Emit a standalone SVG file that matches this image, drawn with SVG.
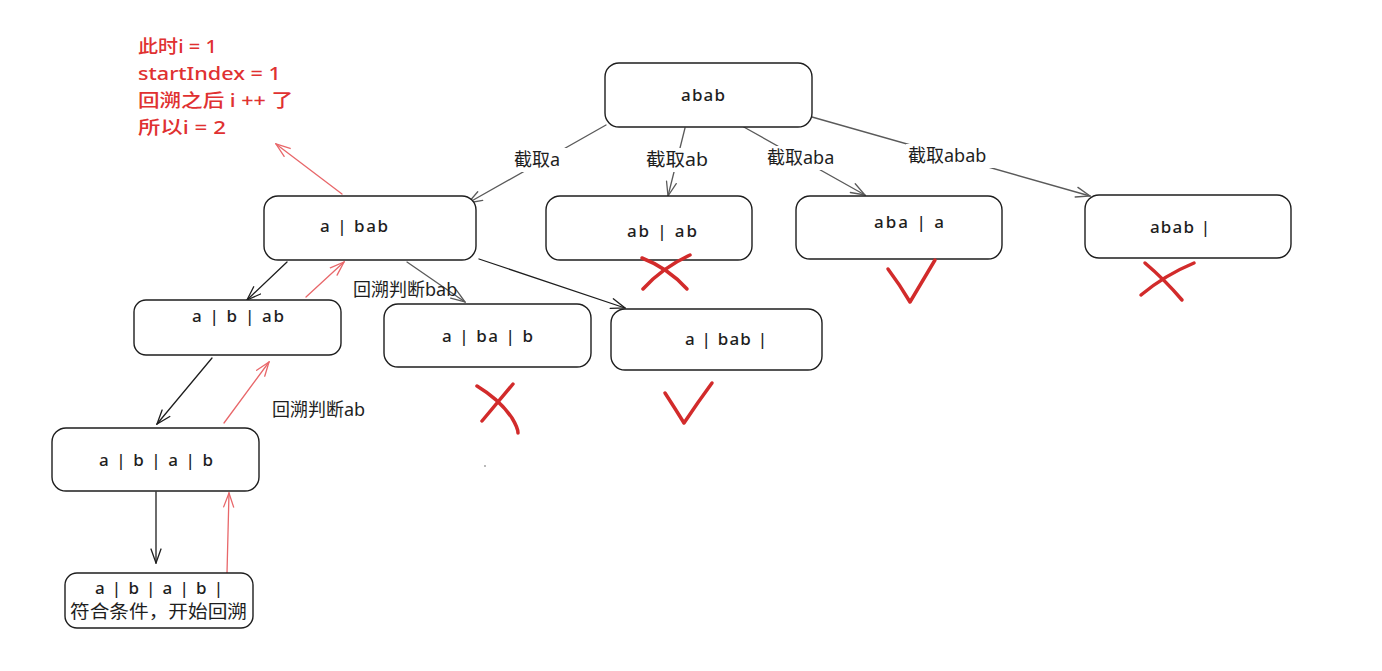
<svg xmlns="http://www.w3.org/2000/svg" width="1382" height="671" viewBox="0 0 1382 671">
<defs>
<style>
.box{fill:#fff;stroke:#1e1e1e;stroke-width:1.4}
.nt{font-family:"Noto Sans","Noto Sans CJK SC",sans-serif;font-size:17px;font-weight:500;fill:#1e1e1e}
.lb{font-family:"Noto Sans","Noto Sans CJK SC",sans-serif;font-size:18px;fill:#1e1e1e}
.rt{font-family:"Noto Sans","Noto Sans CJK SC",sans-serif;font-size:18px;font-weight:500;fill:#e03131}
.lbg{fill:#fff}
.e{fill:none;stroke-width:1.3;stroke-linecap:round}
.k{stroke:#1e1e1e;marker-end:url(#ak)}
.g{stroke:#5a5a5a;marker-end:url(#ag)}
.r{stroke:#e8676a;marker-end:url(#ar)}
.mk{fill:none;stroke:#d22b2b;stroke-width:3.5;stroke-linecap:round;stroke-linejoin:round}
</style>
<marker id="ak" viewBox="0 0 16 12" refX="15" refY="6" markerWidth="16" markerHeight="12" markerUnits="userSpaceOnUse" orient="auto"><path d="M1,1 L15,6 L1,11" fill="none" stroke="#1e1e1e" stroke-width="1.3" stroke-linecap="round"/></marker>
<marker id="ag" viewBox="0 0 16 12" refX="15" refY="6" markerWidth="16" markerHeight="12" markerUnits="userSpaceOnUse" orient="auto"><path d="M1,1 L15,6 L1,11" fill="none" stroke="#5a5a5a" stroke-width="1.3" stroke-linecap="round"/></marker>
<marker id="ar" viewBox="0 0 16 12" refX="15" refY="6" markerWidth="16" markerHeight="12" markerUnits="userSpaceOnUse" orient="auto"><path d="M1,1 L15,6 L1,11" fill="none" stroke="#e8676a" stroke-width="1.3" stroke-linecap="round"/></marker>
</defs>
<rect width="1382" height="671" fill="#fff"/>

<g id="connectors">
<line class="e g" x1="606" y1="125" x2="468" y2="203"/>
<line class="e g" x1="685" y1="128" x2="668" y2="196"/>
<line class="e g" x1="742" y1="126" x2="865" y2="195"/>
<line class="e g" x1="812" y1="117" x2="1090" y2="196"/>
<line class="e k" x1="287" y1="262" x2="247" y2="300"/>
<line class="e r" x1="306" y1="297" x2="344" y2="262"/>
<line class="e g" x1="407" y1="262" x2="465" y2="302"/>
<line class="e k" x1="479" y1="259" x2="625" y2="308"/>
<line class="e k" x1="212" y1="358" x2="157" y2="424"/>
<line class="e r" x1="224" y1="423" x2="269" y2="362"/>
<line class="e k" x1="156" y1="492" x2="156" y2="563"/>
<line class="e r" x1="227" y1="573" x2="229" y2="493"/>
<line class="e r" x1="342" y1="194" x2="276" y2="144"/>
</g>

<g id="edge-labels">
<rect class="lbg" x="511" y="148" width="57" height="24"/>
<text class="lb" x="514" y="166">截取a</text>
<rect class="lbg" x="643" y="148" width="68" height="24"/>
<text class="lb" x="646" y="166" textLength="62" lengthAdjust="spacingAndGlyphs">截取ab</text>
<rect class="lbg" x="765" y="146" width="80" height="24"/>
<text class="lb" x="767" y="164">截取aba</text>
<rect class="lbg" x="906" y="144" width="90" height="24"/>
<text class="lb" x="908" y="162">截取abab</text>
<text class="lb" x="353" y="296">回溯判断bab</text>
<text class="lb" x="272" y="416">回溯判断ab</text>
</g>

<g id="note">
<text class="rt" x="138" y="53" textLength="79" lengthAdjust="spacingAndGlyphs">此时i = 1</text>
<text class="rt" x="138" y="80" textLength="143" lengthAdjust="spacingAndGlyphs">startIndex = 1</text>
<text class="rt" x="138" y="107" textLength="155" lengthAdjust="spacingAndGlyphs">回溯之后 i ++ 了</text>
<text class="rt" x="138" y="134" textLength="88" lengthAdjust="spacingAndGlyphs">所以i = 2</text>
</g>

<g id="n-abab"><rect class="box" x="605" y="63" width="207" height="64" rx="14"/><text class="nt" x="681" y="101" textLength="44" lengthAdjust="spacing">abab</text></g>
<g id="n-a-bab"><rect class="box" x="264" y="196" width="212" height="64" rx="14"/><text class="nt" x="320" y="232" textLength="68" lengthAdjust="spacing">a | bab</text></g>
<g id="n-ab-ab"><rect class="box" x="546" y="196" width="206" height="64" rx="14"/><text class="nt" x="627" y="237" textLength="70" lengthAdjust="spacing">ab | ab</text></g>
<g id="n-aba-a"><rect class="box" x="796" y="196" width="206" height="63" rx="14"/><text class="nt" x="874" y="228" textLength="70" lengthAdjust="spacing">aba | a</text></g>
<g id="n-abab-"><rect class="box" x="1085" y="195" width="206" height="63" rx="14"/><text class="nt" x="1150" y="233" textLength="60" lengthAdjust="spacing">abab |</text></g>
<g id="n-a-b-ab"><rect class="box" x="134" y="300" width="207" height="55" rx="12"/><text class="nt" x="192" y="322" textLength="92" lengthAdjust="spacing">a | b | ab</text></g>
<g id="n-a-ba-b"><rect class="box" x="384" y="304" width="207" height="63" rx="14"/><text class="nt" x="442" y="342" textLength="91" lengthAdjust="spacing">a | ba | b</text></g>
<g id="n-a-bab-"><rect class="box" x="611" y="309" width="211" height="61" rx="14"/><text class="nt" x="685" y="345" textLength="82" lengthAdjust="spacing">a | bab |</text></g>
<g id="n-a-b-a-b"><rect class="box" x="52" y="428" width="207" height="63" rx="14"/><text class="nt" x="99" y="466" textLength="114" lengthAdjust="spacing">a | b | a | b</text></g>
<g id="n-final"><rect class="box" x="65" y="573" width="188" height="55" rx="12"/><text class="nt" x="95" y="594" textLength="128" lengthAdjust="spacing">a | b | a | b |</text><text class="lb" x="70" y="618" textLength="177" lengthAdjust="spacingAndGlyphs">符合条件，开始回溯</text></g>

<g id="marks">
<path class="mk" d="M642,258 Q668,268 687,289"/>
<path class="mk" d="M690,255 Q662,268 643,289"/>
<path class="mk" d="M888,269 Q900,285 910,302 Q922,282 935,260"/>
<path class="mk" d="M1145,263 Q1165,280 1182,300"/>
<path class="mk" d="M1194,263 Q1165,275 1141,295"/>
<path class="mk" d="M477,386 Q500,400 512,418 Q518,428 518,433"/>
<path class="mk" d="M513,384 Q498,402 482,421"/>
<path class="mk" d="M665,393 Q676,410 684,423 Q698,402 712,383"/>
</g>
<circle cx="485" cy="466" r="0.9" fill="#999"/>
</svg>
